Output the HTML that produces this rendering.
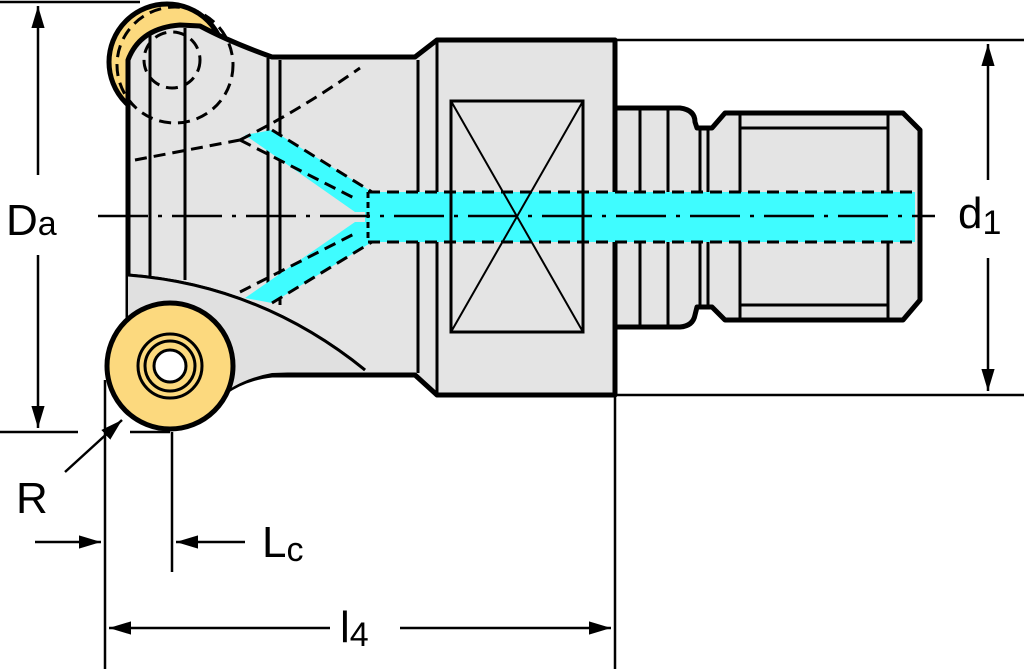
<!DOCTYPE html>
<html><head><style>body{margin:0;background:#fff}svg{display:block}</style></head><body>
<svg width="1024" height="669" viewBox="0 0 1024 669" xmlns="http://www.w3.org/2000/svg" font-family="Liberation Sans, sans-serif">
<defs><marker id="a" viewBox="0 0 10 10" refX="10" refY="5" markerWidth="8" markerHeight="8" orient="auto-start-reverse" markerUnits="userSpaceOnUse"><path d="M0,0 L10,5 L0,10z" fill="#000"/></marker>
<marker id="b" viewBox="0 0 20 12" refX="20" refY="6" markerWidth="22" markerHeight="14" orient="auto-start-reverse" markerUnits="userSpaceOnUse"><path d="M0,0 L20,6 L0,12z" fill="#000"/></marker></defs>
<!-- top insert -->
<circle cx="167" cy="62" r="58" fill="#fcd97e" stroke="#000" stroke-width="5"/>
<!-- head body -->
<path d="M128,320 L128,60 Q140,28 180,25 L200,26 Q230,42 272,57 L415,57 L437,40 L615,40 L615,395 L437,395 L415,375 L272,375 Q245,378 225,392 L128,320 Z" fill="#e4e4e4" stroke="#000" stroke-width="5" stroke-linejoin="round"/>
<!-- shank -->
<path d="M615,108 L680,108 Q695,110 695,122 L697,128 L712,128 L725,113 L903,113 L920,130 L920,300 L903,320 L725,320 L712,307 L697,307 L695,315 Q693,326 680,327 L615,327 Z" fill="#e4e4e4" stroke="#000" stroke-width="5" stroke-linejoin="round"/>
<g stroke="#000" stroke-width="3" fill="none">
<line x1="640" y1="110" x2="640" y2="325"/><line x1="668" y1="110" x2="668" y2="325"/>
<line x1="700" y1="128" x2="700" y2="307"/><line x1="708" y1="128" x2="708" y2="307"/>
<line x1="740" y1="115" x2="740" y2="318"/><line x1="888" y1="115" x2="888" y2="318"/>
<line x1="740" y1="128" x2="888" y2="128"/><line x1="740" y1="305" x2="888" y2="305"/>
<line x1="418" y1="60" x2="418" y2="373"/><line x1="437" y1="42" x2="437" y2="393"/>
<line x1="268" y1="58" x2="268" y2="300"/><line x1="280" y1="60" x2="280" y2="305"/>
<line x1="150" y1="33" x2="150" y2="290"/><line x1="185" y1="28" x2="185" y2="280"/>
<path d="M128,275 Q260,285 365,370" stroke-width="3"/>
</g>
<!-- lower light area under curve -->
<path d="M128,275 Q260,285 365,370 L272,373 Q245,378 225,392 L128,320 Z" fill="#e0e0e0" stroke="none"/>
<path d="M128,275 Q260,285 365,370" stroke="#000" stroke-width="3" fill="none"/>
<!-- coolant -->
<g fill="#3ffcff">
<rect x="365" y="192" width="550" height="50"/>
<polygon points="245,135 272,130 372,192 372,212 355,212"/>
<polygon points="245,298 272,303 372,242 372,222 355,222"/>
</g>
<g stroke="#000" stroke-width="3" fill="none" stroke-dasharray="12,7">
<line x1="368" y1="192" x2="915" y2="192"/><line x1="368" y1="242" x2="915" y2="242"/>
<line x1="240" y1="140" x2="358" y2="200"/><line x1="272" y1="130" x2="372" y2="192"/>
<line x1="240" y1="292" x2="358" y2="232"/><line x1="272" y1="303" x2="372" y2="242"/>
<line x1="368" y1="192" x2="368" y2="242" stroke-dasharray="6,4"/>
<path d="M135,160 L240,140"/>
<path d="M240,140 Q300,110 360,68"/>
<circle cx="175" cy="65" r="58" />
<circle cx="172" cy="60" r="28"/>
</g>
<!-- square -->
<rect x="451" y="101" width="132" height="231" fill="none" stroke="#000" stroke-width="3"/>
<path d="M451,101 L583,332 M583,101 L451,332" stroke="#000" stroke-width="2"/>
<!-- centerline -->
<line x1="98" y1="216" x2="935" y2="216" stroke="#000" stroke-width="2.5" stroke-dasharray="50,10,4,10"/>
<!-- bottom insert -->
<circle cx="170" cy="366" r="63" fill="#fcd97e" stroke="#000" stroke-width="5"/>
<circle cx="170" cy="366" r="32" fill="#fcd97e" stroke="#000" stroke-width="3"/>
<circle cx="170" cy="366" r="25" fill="#fcd97e" stroke="#000" stroke-width="3"/>
<circle cx="170" cy="366" r="16" fill="#fff" stroke="#000" stroke-width="3"/>
<!-- dimension lines -->
<g stroke="#000" stroke-width="2.5" fill="none">
<line x1="0" y1="2" x2="140" y2="2"/>
<line x1="0" y1="432" x2="78" y2="432"/><line x1="130" y1="432" x2="170" y2="432"/>
<line x1="615" y1="40" x2="1024" y2="40"/><line x1="615" y1="395" x2="1024" y2="395"/>
<line x1="38" y1="6" x2="38" y2="175" marker-start="url(#b)"/>
<line x1="38" y1="255" x2="38" y2="428" marker-end="url(#b)"/>
<line x1="988" y1="44" x2="988" y2="180" marker-start="url(#b)"/>
<line x1="988" y1="258" x2="988" y2="391" marker-end="url(#b)"/>
<line x1="615" y1="395" x2="615" y2="669"/>
<line x1="105" y1="380" x2="105" y2="669"/>
<line x1="172" y1="432" x2="172" y2="572"/>
<line x1="109" y1="628" x2="330" y2="628" marker-start="url(#b)"/>
<line x1="400" y1="628" x2="611" y2="628" marker-end="url(#b)"/>
<line x1="35" y1="542" x2="101" y2="542" marker-end="url(#b)"/>
<line x1="245" y1="542" x2="176" y2="542" marker-end="url(#b)"/>
<line x1="65" y1="472" x2="122" y2="420" marker-end="url(#b)"/>
</g>
<g font-size="44" fill="#000">
<text x="6" y="235">D<tspan font-size="34">a</tspan></text>
<text x="958" y="228">d<tspan font-size="34" dy="6">1</tspan></text>
<text x="16" y="513">R</text>
<text x="262" y="557">L<tspan font-size="34" dy="4">c</tspan></text>
<text x="340" y="642">l<tspan font-size="34" dy="4">4</tspan></text>
</g>
</svg>
</body></html>
